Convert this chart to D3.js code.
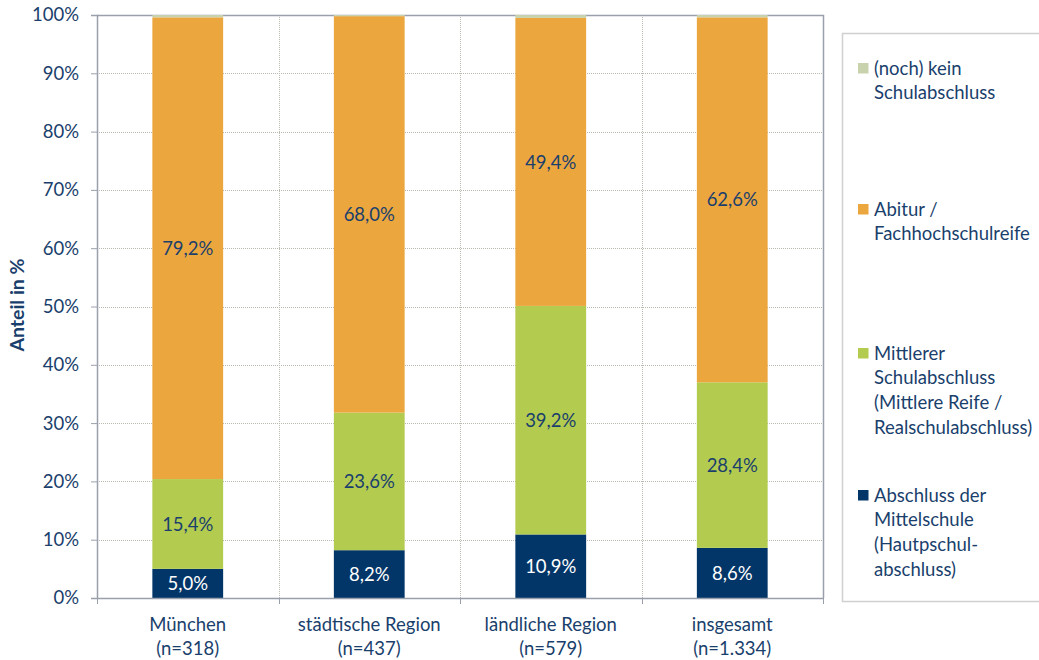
<!DOCTYPE html>
<html lang="de">
<head>
    <meta charset="UTF-8">
    <script src="https://d3js.org/d3.v7.min.js"></script>
    <title>Schulabschluss</title>
    <style>
        body { margin: 0; background: #fff; }
        svg { font-family: Lato, "Open Sans", sans-serif; }
    </style>
</head>
<body>
    <script>
        // Kategorien (zweizeilige Achsenbeschriftung)
        const categories = ["München", "städtische Region", "ländliche Region", "insgesamt"];
        const catN = ["(n=318)", "(n=437)", "(n=579)", "(n=1.334)"];

        // Reihen von unten nach oben
        const seriesKeys = ["haupt", "mittel", "abitur", "kein"];
        const haupt = [5.0, 8.2, 10.9, 8.6];
        const mittel = [15.4, 23.6, 39.2, 28.4];
        const abitur = [79.2, 68.0, 49.4, 62.6];
        const kein = [0.4, 0.2, 0.5, 0.4];

        const legendLabels = {
            kein: ["(noch) kein", "Schulabschluss"],
            abitur: ["Abitur /", "Fachhochschulreife"],
            mittel: ["Mittlerer", "Schulabschluss", "(Mittlere Reife /", "Realschulabschluss)"],
            haupt: ["Abschluss der", "Mittelschule", "(Hautpschul-", "abschluss)"]
        };
        const yTicks = [0, 10, 20, 30, 40, 50, 60, 70, 80, 90, 100];

        const colors = {
            haupt: "#033668",
            mittel: "#b3cb4f",
            abitur: "#eca63e",
            kein: "#c8d3ae"
        };
        const textDark = "#1a3f6c";
        const fs = 18.5;

        const width = 1039, height = 660;
        const margin = {top: 15, right: 216, bottom: 62, left: 97};

        const rows = categories.map((c, i) => ({
            cat: c, haupt: haupt[i], mittel: mittel[i], abitur: abitur[i], kein: kein[i]
        }));
        const stacked = d3.stack().keys(seriesKeys)(rows);

        const x = d3.scaleBand()
            .domain(categories)
            .range([margin.left, width - margin.right])
            .paddingInner(0.61)
            .paddingOuter(0.305);
        const xOuter = d3.scaleBand()
            .domain(categories)
            .range([margin.left, width - margin.right]);

        const y = d3.scaleLinear()
            .domain([0, 100])
            .range([height - margin.bottom, margin.top]);

        const de = d3.formatLocale({decimal: ",", thousands: ".", grouping: [3], currency: ["", "€"]});
        const fmt = de.format(".1f");

        const svg = d3.select("body").append("svg")
            .attr("width", width)
            .attr("height", height);

        const x0 = margin.left, x1 = width - margin.right;
        const y0 = y(0), y1 = y(100);

        // Gitterlinien
        svg.append("g").selectAll("line")
            .data(yTicks.filter(d => d > 0 && d < 100))
            .enter().append("line")
            .attr("x1", x0).attr("x2", x1)
            .attr("y1", d => Math.round(y(d)) + 0.5).attr("y2", d => Math.round(y(d)) + 0.5)
            .attr("stroke", "#b9b9b0")
            .attr("stroke-dasharray", "1,1");

        svg.append("g").selectAll("line")
            .data(categories.slice(1))
            .enter().append("line")
            .attr("x1", d => Math.round(xOuter(d)) + 0.5).attr("x2", d => Math.round(xOuter(d)) + 0.5)
            .attr("y1", y1).attr("y2", y0)
            .attr("stroke", "#b9b9b0")
            .attr("stroke-dasharray", "1,1");

        // Rahmen oben / rechts
        svg.append("path")
            .attr("d", `M${x0},${y1 + 0.5}H${x1 + 0.5}V${y0}`)
            .attr("fill", "none")
            .attr("stroke", "#9aa0ab")
            .attr("stroke-width", 1.5);

        // Balken
        const layer = svg.append("g").selectAll("g")
            .data(stacked)
            .enter().append("g")
            .attr("fill", d => colors[d.key]);

        layer.selectAll("rect")
            .data(d => d)
            .enter().append("rect")
            .attr("x", d => x(d.data.cat))
            .attr("y", d => y(d[1]))
            .attr("width", x.bandwidth())
            .attr("height", d => y(d[0]) - y(d[1]));

        // Datenbeschriftungen
        stacked.filter(s => s.key !== "kein").forEach(s => {
            svg.append("g").selectAll("text")
                .data(s)
                .enter().append("text")
                .attr("x", d => x(d.data.cat) + x.bandwidth() / 2)
                .attr("y", d => (y(d[0]) + y(d[1])) / 2)
                .attr("dy", "0.36em")
                .attr("text-anchor", "middle")
                .attr("font-size", fs)
                .attr("fill", s.key === "haupt" ? "#ffffff" : textDark)
                .text(d => fmt(d[1] - d[0]) + "%");
        });

        // Y-Achse
        const yAxis = svg.append("g")
            .attr("transform", `translate(${x0},0)`)
            .call(d3.axisLeft(y).tickValues(yTicks).tickFormat(d => d + "%").tickSize(6).tickPadding(12));
        yAxis.select(".domain").attr("stroke", "#9aa0ab").attr("stroke-width", 1.5);
        yAxis.selectAll(".tick line").attr("stroke", "#9aa0ab");
        yAxis.selectAll(".tick text")
            .attr("font-size", fs)
            .attr("font-family", "Lato, sans-serif")
            .attr("fill", textDark);

        // X-Achse
        svg.append("line")
            .attr("x1", x0).attr("x2", x1 + 0.5)
            .attr("y1", y0 + 0.5).attr("y2", y0 + 0.5)
            .attr("stroke", "#9aa0ab").attr("stroke-width", 1.5);
        svg.append("g").selectAll("line")
            .data(categories.map(c => xOuter(c)).concat([x1]))
            .enter().append("line")
            .attr("x1", d => Math.round(d) + 0.5).attr("x2", d => Math.round(d) + 0.5)
            .attr("y1", y0).attr("y2", y0 + 6)
            .attr("stroke", "#9aa0ab");

        const xl = svg.append("g").selectAll("text")
            .data(categories)
            .enter().append("text")
            .attr("x", d => xOuter(d) + xOuter.bandwidth() / 2)
            .attr("y", y0 + 33)
            .attr("text-anchor", "middle")
            .attr("font-size", fs)
            .attr("fill", textDark);
        xl.append("tspan").text(d => d);
        xl.append("tspan")
            .attr("x", d => xOuter(d) + xOuter.bandwidth() / 2)
            .attr("dy", 23.5)
            .text((d, i) => catN[i]);

        // Achsentitel
        svg.append("text")
            .attr("transform", `translate(24,305) rotate(-90)`)
            .attr("text-anchor", "middle")
            .attr("font-size", 19.5)
            .attr("font-weight", "bold")
            .attr("fill", textDark)
            .text("Anteil in %");

        // Legende
        svg.append("rect")
            .attr("x", 842.5).attr("y", 33.5)
            .attr("width", 210).attr("height", 568)
            .attr("fill", "#fff")
            .attr("stroke", "#d0d0d0")
            .attr("stroke-width", 1.5);

        const legendOrder = ["kein", "abitur", "mittel", "haupt"];
        const legendTop = [68, 209, 353, 495];
        const lineH = 24.7;
        const lg = svg.append("g").selectAll("g")
            .data(legendOrder)
            .enter().append("g")
            .attr("transform", (d, i) => `translate(858,${legendTop[i]})`);
        lg.append("rect")
            .attr("x", 0).attr("y", -5)
            .attr("width", 10.5).attr("height", 10.5)
            .attr("fill", d => colors[d]);
        lg.append("text")
            .attr("font-size", fs)
            .attr("fill", textDark)
            .selectAll("tspan")
            .data(d => legendLabels[d])
            .enter().append("tspan")
            .attr("x", 16)
            .attr("y", (d, i) => i * lineH)
            .attr("dy", "0.36em")
            .text(d => d);
    </script>
</body>
</html>
